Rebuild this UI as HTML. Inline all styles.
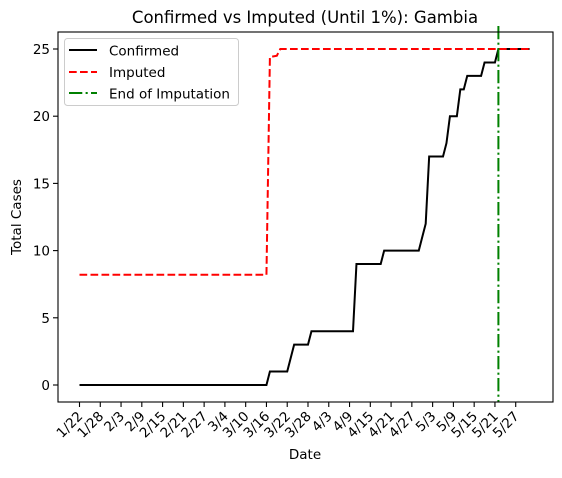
<!DOCTYPE html>
<html><head><meta charset="utf-8"><style>
body{margin:0;background:#fff}
svg text{font-family:"DejaVu Sans","Liberation Sans",sans-serif;fill:#000}
</style></head><body>
<svg id="chart" width="562" height="473" xmlns="http://www.w3.org/2000/svg">
<text x="305" y="23" font-size="16.5" text-anchor="middle">Confirmed vs Imputed (Until 1%): Gambia</text>
<g id="plot"></g>
<text x="305" y="459" font-size="13.5" text-anchor="middle">Date</text>
<text x="0" y="0" font-size="13.5" text-anchor="middle" transform="translate(21,217) rotate(-90)">Total Cases</text>
<g>
<rect x="64.5" y="38.5" width="174" height="67" rx="3" fill="#fff" stroke="#ccc"/>
<line x1="69" y1="50" x2="97" y2="50" stroke="#000" stroke-width="2"/>
<text x="109" y="55.5" font-size="13.5">Confirmed</text>
<line x1="69" y1="72" x2="97" y2="72" stroke="red" stroke-width="2" stroke-dasharray="7.7,3.3"/>
<text x="109" y="77" font-size="13.5">Imputed</text>
<line x1="69" y1="93" x2="97" y2="93" stroke="green" stroke-width="2" stroke-dasharray="13.3,3.3,2.1,3.3"/>
<text x="109" y="98.5" font-size="13.5">End of Imputation</text>
</g>
</svg>
<script>
const confirmedDays=[0,54,55,60,62,66,67,79,80,87,88,98,99,100,101,105,106,107,109,110,111,112,116,117,120,121,130];
const confirmedVals=[0,0,1,1,3,3,4,4,9,9,10,10,11,12,17,17,18,20,20,22,22,23,23,24,24,25,25];
const imputedDays=[0,54,55,57,58,130];
const imputedVals=[8.2,8.2,24.4,24.5,25,25];
const endOfImputationDay=121;
const tickLabels=["1/22","1/28","2/3","2/9","2/15","2/21","2/27","3/4","3/10","3/16","3/22","3/28","4/3","4/9","4/15","4/21","4/27","5/3","5/9","5/15","5/21","5/27"];
const yTicks=[0,5,10,15,20,25];
const L=58,R=553,T=32,B=402;
const X=d=>79.5+d*3.462;
const Y=v=>385-v*13.44;
const NS="http://www.w3.org/2000/svg";
const g=document.getElementById('plot');
function mk(t,a){const e=document.createElementNS(NS,t);for(const k in a)e.setAttribute(k,a[k]);g.appendChild(e);return e;}
tickLabels.forEach((lab,i)=>{const x=X(i*6);
const t=mk('line',{x1:x,y1:B,x2:x,y2:B+5,stroke:'#000','stroke-width':1.1});


const tx=mk('text',{x:0,y:0,'font-size':13.5,'text-anchor':'end',transform:`translate(${x+4},${B+15}) rotate(-45)`});
tx.textContent=lab;

});
yTicks.forEach(v=>{const y=Y(v);
const t=mk('line',{x1:L-5,y1:y,x2:L,y2:y,stroke:'#000','stroke-width':1.1});


const tx=mk('text',{x:L-8,y:y+5,'font-size':13.5,'text-anchor':'end'});
tx.textContent=v;

});
const pts=(ds,vs)=>ds.map((d,i)=>X(d)+','+Y(vs[i])).join(' ');
const c=mk('polyline',{points:pts(confirmedDays,confirmedVals),fill:'none',stroke:'#000','stroke-width':2});


const im=mk('polyline',{points:pts(imputedDays,imputedVals),fill:'none',stroke:'red','stroke-width':2,'stroke-dasharray':'7.7,3.3'});


const ev=mk('line',{x1:X(endOfImputationDay),y1:T-6,x2:X(endOfImputationDay),y2:B,stroke:'green','stroke-width':2,'stroke-dasharray':'13.3,3.3,2.1,3.3'});


const f=mk('rect',{x:L,y:T,width:R-L,height:B-T,fill:'none',stroke:'#000','stroke-width':1.1});


</script>
</body></html>
